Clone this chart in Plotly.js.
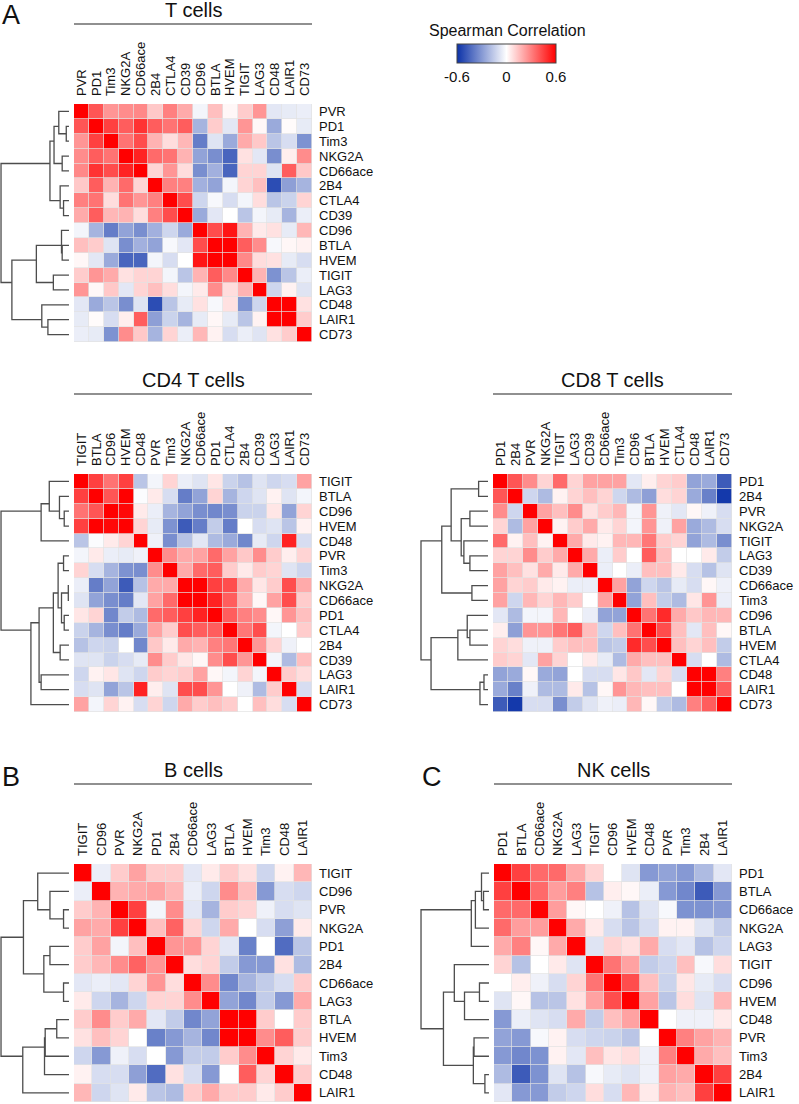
<!DOCTYPE html>
<html><head><meta charset="utf-8">
<script src="https://cdn.plot.ly/plotly-3.0.1.min.js"></script>
<style>body{margin:0;background:#fff}#chart{width:799px;height:1104px}</style>
</head><body><div id="chart"></div>
<script>
// ---------------- DATA ----------------
const tLabels = ["PVR","PD1","Tim3","NKG2A","CD66ace","2B4","CTLA4","CD39","CD96","BTLA","HVEM","TIGIT","LAG3","CD48","LAIR1","CD73"];
const tUpper = [
 [0.4,0.25,0.27,0.28,0.13,0.3,0.2,-0.03,0.15,0.02,0.12,0.25,-0.07,-0.06,-0.05],
 [0.45,0.38,0.48,0.38,0.33,0.38,-0.22,0.12,-0.07,0.25,0.02,-0.25,0.01,-0.06],
 [0.33,0.42,0.18,0.08,0.17,-0.38,-0.08,-0.25,0.2,0.13,-0.17,-0.1,-0.32],
 [0.52,0.35,0.33,0.18,-0.27,-0.33,-0.45,0.07,-0.07,-0.33,0.04,0.27],
 [0.1,0.25,0.08,-0.33,-0.23,-0.45,0.1,0.1,-0.08,0.38,0.13],
 [0.3,0.3,-0.23,-0.27,-0.03,0.1,0.15,-0.52,-0.28,-0.22],
 [0.42,-0.12,-0.02,-0.1,-0.03,0.08,-0.17,-0.13,0.1],
 [-0.25,-0.07,0.0,-0.17,-0.03,-0.06,-0.22,-0.05],
 [0.42,0.55,0.18,0.05,0.07,-0.06,0.17],
 [0.6,0.38,0.27,-0.02,0.02,0.03],
 [0.28,0.08,0.07,-0.06,-0.1],
 [0.18,-0.32,-0.17,-0.05],
 [-0.12,0.03,-0.08],
 [0.6,0.07],
 [0.12]
];
// tree nodes: [height, left, right]; numbers are leaf indices
const tTree = [1.0,
  [0.28, [0.22, [0.15, 0, [0.04, 1, 2]], [0.10, 3, 4]], [0.13, 5, [0.08, 6, 7]]],
  [0.84, [0.48, [0.11, 8, [0.10, 9, 10]], [0.23, 11, 12]], [0.40, 13, [0.31, 14, 15]]]];

const cd4Labels = ["TIGIT","BTLA","CD96","HVEM","CD48","PVR","Tim3","NKG2A","CD66ace","PD1","CTLA4","2B4","CD39","LAG3","LAIR1","CD73"];
const cd4Upper = [
 [0.45,0.33,0.45,-0.17,-0.03,0.1,-0.05,-0.08,0.06,-0.13,-0.18,-0.08,-0.12,-0.1,0.22],
 [0.4,0.6,-0.01,0.05,-0.1,-0.38,-0.27,0.1,-0.22,-0.12,-0.08,0.03,-0.08,-0.03],
 [0.58,0.05,-0.05,-0.22,-0.27,-0.33,-0.35,-0.33,-0.13,-0.13,0.06,-0.27,0.1],
 [0.1,-0.06,-0.32,-0.48,-0.38,-0.15,-0.38,0.0,-0.1,-0.08,-0.17,0.03],
 [-0.04,-0.33,-0.18,-0.07,-0.2,-0.25,-0.35,-0.06,-0.12,0.52,-0.1],
 [0.27,0.2,0.22,0.35,0.22,0.13,0.27,0.12,0.04,0.1],
 [0.2,0.35,0.38,0.12,0.05,0.12,0.1,-0.08,-0.12],
 [0.6,0.45,0.42,0.2,0.06,0.12,0.42,0.2],
 [0.52,0.38,0.18,0.02,0.22,0.42,0.12],
 [0.38,0.3,0.27,0.02,0.25,0.15],
 [0.32,0.42,-0.03,0.0,0.12],
 [0.25,0.1,-0.04,0.0],
 [-0.03,-0.2,0.15],
 [0.12,0.08],
 [-0.1]
];
const cd4Tree = [1.0,
  [0.41, [0.29, 0, [0.14, 1, [0.07, 2, 3]]], 4],
  [0.56, [0.44, [0.23, [0.16, [0.08, 5, 6], [0.11, [0.01, 7, 8], [0.07, 9, 10]]], [0.13, 11, 12]], [0.41, 13, 14]], 15]];

const cd8Labels = ["PD1","2B4","PVR","NKG2A","TIGIT","LAG3","CD39","CD66ace","Tim3","CD96","BTLA","HVEM","CTLA4","CD48","LAIR1","CD73"];
const cd8Upper = [
 [0.4,0.27,0.1,0.35,0.1,0.22,0.22,0.22,-0.07,0.04,0.1,0.12,-0.27,-0.25,-0.48],
 [-0.12,-0.2,0.03,0.1,0.15,0.1,-0.12,-0.2,-0.28,0.08,0.1,-0.25,-0.37,-0.58],
 [0.22,0.15,0.27,0.07,0.12,0.17,-0.03,0.25,-0.04,-0.07,0.02,-0.04,-0.1],
 [0.03,0.12,0.2,0.05,0.1,-0.03,0.25,-0.04,0.22,-0.25,-0.2,-0.1],
 [0.2,0.05,0.03,0.17,0.17,0.32,0.12,0.1,-0.27,-0.2,-0.33],
 [0.2,-0.05,0.12,0.0,0.38,0.15,0.0,0.0,0.05,-0.15],
 [-0.05,0.0,-0.05,0.15,0.15,0.05,-0.1,-0.18,-0.08],
 [0.22,-0.27,-0.12,-0.17,-0.06,-0.1,0.02,-0.04],
 [-0.27,0.15,-0.15,-0.2,0.06,0.25,-0.05],
 [0.33,0.5,0.2,0.13,0.17,0.17],
 [0.42,0.15,-0.07,0.15,0.02],
 [0.15,0.1,0.15,-0.15],
 [-0.1,0.0,-0.2],
 [0.6,0.3],
 [0.38]
];
const cd8Tree = [1.0,
  [0.69, [0.55, [0.14, 0, 1], [0.40, [0.27, 2, 3], [0.36, 4, [0.27, 5, 6]]]], [0.24, 7, 8]],
  [0.85, [0.45, [0.31, 9, [0.27, 10, 11]], 12], [0.12, [0.06, 13, 14], 15]]];

const bLabels = ["TIGIT","CD96","PVR","NKG2A","PD1","2B4","CD66ace","LAG3","BTLA","HVEM","Tim3","CD48","LAIR1"];
const bUpper = [
 [-0.05,0.12,0.22,0.12,0.12,-0.07,0.05,0.12,0.07,-0.12,0.03,0.17],
 [0.18,0.2,0.22,0.17,-0.05,-0.12,0.27,0.15,-0.3,-0.1,-0.12],
 [0.45,-0.03,0.27,-0.07,-0.22,0.12,0.1,-0.04,-0.1,-0.08],
 [0.15,0.37,0.1,-0.12,0.2,0.0,-0.1,-0.28,0.05],
 [0.25,0.25,0.1,-0.07,-0.37,0.0,-0.43,-0.17],
 [0.08,0.1,-0.15,-0.3,-0.3,0.07,-0.2],
 [0.27,-0.35,-0.22,-0.15,-0.1,0.12],
 [-0.27,-0.35,-0.15,-0.3,0.2],
 [0.6,0.12,0.0,0.12],
 [0.27,0.38,0.12],
 [0.1,0.05],
 [0.12]
];
const bTree = [1.0,
  [0.67, [0.46, 0, [0.28, 1, [0.08, 2, 3]]], [0.37, [0.28, 4, 5], [0.08, 6, 7]]],
  [0.68, [0.36, [0.35, [0.18, 8, 9], 10], 11], 12]];

const nkLabels = ["PD1","BTLA","CD66ace","NKG2A","LAG3","TIGIT","CD96","HVEM","CD48","PVR","Tim3","2B4","LAIR1"];
const nkUpper = [
 [0.45,0.35,0.35,0.2,0.1,0.0,-0.08,-0.3,-0.27,-0.3,-0.2,-0.07],
 [0.35,0.23,0.3,-0.18,0.04,0.02,-0.05,-0.3,-0.35,-0.48,-0.3],
 [0.23,0.02,0.0,-0.04,-0.18,-0.08,-0.02,-0.32,-0.32,-0.3],
 [0.2,0.05,-0.1,-0.17,-0.1,0.03,0.03,-0.08,-0.15],
 [-0.08,0.1,0.07,0.2,-0.1,-0.07,-0.18,-0.12],
 [0.33,0.22,-0.15,-0.12,0.15,-0.02,0.08],
 [0.42,0.15,-0.13,0.06,-0.06,-0.1],
 [0.22,-0.17,0.08,-0.08,0.17],
 [0.0,-0.04,-0.04,0.05],
 [0.3,0.22,0.18],
 [0.2,0.15],
 [0.45]
];
const nkTree = [1.0,
  [0.26, [0.20, [0.11, 0, [0.08, 1, 2]], 3], 4],
  [0.67, [0.51, 5, [0.36, [0.14, 6, 7], 8]], [0.23, [0.22, 9, 10], [0.06, 11, 12]]]];

const cbTicks = [-0.6, 0, 0.6];
const cbTickText = ["-0.6", "0", "0.6"];

// ---------------- BUILD ----------------
const W = 799, H = 1104;
const FONT = "Liberation Sans, Arial, sans-serif";
const scale = [[0,'rgb(12,50,168)'],[0.5,'rgb(255,255,255)'],[1,'rgb(255,0,0)']];

function fullMatrix(upper){
  const n = upper.length + 1;
  const m = [];
  for (let i=0;i<n;i++){ m.push(new Array(n).fill(1)); }
  for (let i=0;i<n-1;i++){
    for (let k=0;k<upper[i].length;k++){
      const j = i+1+k;
      m[i][j] = upper[i][k]; m[j][i] = upper[i][k];
    }
  }
  return m;
}
// node position = mean position of the leaves below it
function dendro(tree){
  const xs=[], ys=[];
  function walk(node){
    if (typeof node === 'number') return {h:0, s:node, c:1};
    const a = walk(node[1]), b = walk(node[2]), h = node[0];
    const pa = a.s/a.c, pb = b.s/b.c;
    xs.push(a.h, h, h, b.h, null); ys.push(pa, pa, pb, pb, null);
    return {h:h, s:a.s+b.s, c:a.c+b.c};
  }
  walk(tree);
  return {xs, ys};
}
const px = v => v/W;
const py = v => 1 - v/H;

const panels = [
  {name:"T cells", labels:tLabels, upper:tUpper, tree:tTree, hx:[74,312], hy:[104,342], dx:[1,69], title:[193,10], line:24},
  {name:"CD4 T cells", labels:cd4Labels, upper:cd4Upper, tree:cd4Tree, hx:[74,312], hy:[474,712], dx:[1,69], title:[193,380], line:394},
  {name:"CD8 T cells", labels:cd8Labels, upper:cd8Upper, tree:cd8Tree, hx:[493,732], hy:[474,712], dx:[421,488], title:[612,380], line:394},
  {name:"B cells", labels:bLabels, upper:bUpper, tree:bTree, hx:[74,312], hy:[864,1102], dx:[1,69], title:[193,770], line:784},
  {name:"NK cells", labels:nkLabels, upper:nkUpper, tree:nkTree, hx:[494,732], hy:[864,1102], dx:[421,489], title:[613,770], line:784}
];

const data = [], layout = {
  width:W, height:H, margin:{l:0,r:0,t:0,b:0},
  paper_bgcolor:'#fff', plot_bgcolor:'#e2e2e2',
  font:{family:FONT, color:'#111', size:12},
  showlegend:false, annotations:[], shapes:[]
};

panels.forEach((p, k) => {
  const n = p.labels.length;
  const idx = p.labels.map((_, i) => i);
  const hi = k+1, di = k+6;
  const z = fullMatrix(p.upper);
  const hm = {
    type:'heatmap', z:z, xaxis:'x'+hi, yaxis:'y'+hi,
    zmin:-0.6, zmax:0.6, colorscale:scale, xgap:0.7, ygap:0.7,
    hoverinfo:'skip', showscale:(k===0)
  };
  if (k===0){
    hm.colorbar = {orientation:'h', x:px(506.5), xanchor:'center', y:py(44), yanchor:'top',
      len:99, lenmode:'pixels', thickness:19, thicknessmode:'pixels', xpad:0, ypad:0,
      outlinewidth:1, outlinecolor:'#444', tickvals:cbTicks, ticktext:cbTickText, ticks:'',
      tickfont:{size:15, family:FONT, color:'#111'}};
  }
  data.push(hm);
  const d = dendro(p.tree);
  data.push({type:'scatter', mode:'lines', x:d.xs, y:d.ys, xaxis:'x'+di, yaxis:'y'+di,
    line:{color:'#4d4d4d', width:1.3}, hoverinfo:'skip', connectgaps:false});

  layout['xaxis'+hi] = {domain:[px(p.hx[0]), px(p.hx[1])], anchor:'y'+hi, range:[-0.5, n-0.5],
    side:'top', tickmode:'array', tickvals:idx, ticktext:p.labels, tickangle:-90, ticks:'',
    showgrid:false, zeroline:false, showline:false, ticklabelstandoff:7,
    tickfont:{size:13, family:FONT, color:'#111'}, fixedrange:true};
  layout['yaxis'+hi] = {domain:[py(p.hy[1]), py(p.hy[0])], anchor:'x'+hi, range:[n-0.5, -0.5],
    side:'right', tickmode:'array', tickvals:idx, ticktext:p.labels, ticks:'',
    showgrid:false, zeroline:false, showline:false, ticklabelstandoff:6,
    tickfont:{size:13, family:FONT, color:'#111'}, fixedrange:true};
  layout['xaxis'+di] = {domain:[px(p.dx[0]-1), px(p.dx[1]+1)], anchor:'y'+di, range:[1.015, -0.015],
    visible:false, fixedrange:true};
  layout['yaxis'+di] = {domain:[py(p.hy[1]), py(p.hy[0])], anchor:'x'+di, range:[n-0.5, -0.5],
    visible:false, fixedrange:true};

  // white background behind the dendrogram
  layout.shapes.push({type:'rect', xref:'paper', yref:'paper', layer:'below',
    x0:px(p.dx[0]-3), x1:px(p.dx[1]+3), y0:py(p.hy[1]+2), y1:py(p.hy[0]-2),
    fillcolor:'#ffffff', line:{width:0}});

  layout.annotations.push({text:p.name, xref:'paper', yref:'paper', x:px(p.title[0]), y:py(p.title[1]),
    xanchor:'center', yanchor:'middle', showarrow:false, font:{size:20, family:FONT, color:'#111'}});
  layout.shapes.push({type:'line', xref:'paper', yref:'paper', x0:px(p.hx[0]), x1:px(p.hx[1]),
    y0:py(p.line), y1:py(p.line), line:{color:'#222', width:1.2}});
});

[["A",11,15],["B",11,777],["C",432,777]].forEach(a => {
  layout.annotations.push({text:a[0], xref:'paper', yref:'paper', x:px(a[1]), y:py(a[2]),
    xanchor:'center', yanchor:'middle', showarrow:false, font:{size:27, family:FONT, color:'#111'}});
});
layout.annotations.push({text:"Spearman Correlation", xref:'paper', yref:'paper', x:px(507), y:py(30),
  xanchor:'center', yanchor:'middle', showarrow:false, font:{size:16, family:FONT, color:'#111'}});

Plotly.newPlot('chart', data, layout, {staticPlot:true, displayModeBar:false});
</script></body></html>
